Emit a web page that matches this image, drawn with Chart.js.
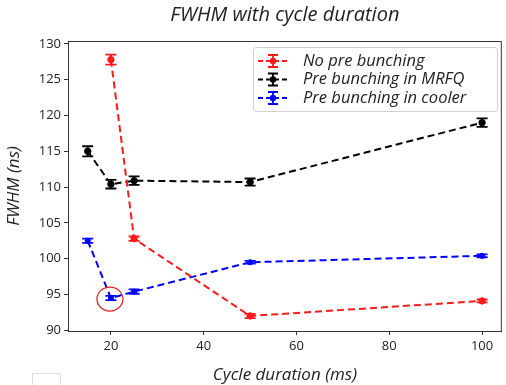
<!DOCTYPE html>
<html><head><meta charset="utf-8">
<script src="https://cdn.jsdelivr.net/npm/chart.js@4/dist/chart.umd.min.js"></script>
<style>html,body{margin:0;padding:0;background:#fff}#wrap{position:relative;width:506px;height:385px}
#box{position:absolute;left:32px;top:373px;width:29px;height:14px;border:1px solid #ddd;border-bottom:none;box-sizing:border-box}</style>
</head><body><div id="wrap"><canvas id="c" width="506" height="385"></canvas><div id="box"></div></div>
<script>
const seriesLabels = ["No pre bunching", "Pre bunching in MRFQ", "Pre bunching in cooler"];
const redX = [20, 25, 50, 100];
const redY = [127.8, 102.8, 92.0, 94.1];
const redErr = [0.7, 0.3, 0.3, 0.2];
const blackX = [15, 20, 25, 50, 100];
const blackY = [115.0, 110.4, 110.9, 110.7, 119.0];
const blackErr = [0.7, 0.6, 0.6, 0.5, 0.6];
const blueX = [15, 20, 25, 50, 100];
const blueY = [102.5, 94.5, 95.4, 99.5, 100.4];
const blueErr = [0.3, 0.3, 0.3, 0.2, 0.2];
const xTicks = [20, 40, 60, 80, 100];
const yTicks = [90, 95, 100, 105, 110, 115, 120, 125, 130];
const highlight = {x: 20, y: 94.5};

const FONT = "'Open Sans', sans-serif";
const colors = ['#ff1a1a', '#000000', '#0000ff'];
const radii = [3.2, 3.2, 2.6];
const toPts = (xs, ys) => xs.map((x, i) => ({x: x, y: ys[i]}));
const errs = [redErr, blackErr, blueErr];

function ds(i, xs, ys) {
  return {label: seriesLabels[i], data: toPts(xs, ys), borderColor: colors[i], backgroundColor: colors[i],
    borderWidth: 2, borderDash: [7, 4], pointRadius: radii[i], pointHoverRadius: radii[i], pointBorderWidth: 1,
    showLine: true, fill: false, tension: 0};
}

const decor = {
  id: 'decor',
  afterDatasetsDraw(chart) {
    const ctx = chart.ctx, xs = chart.scales.x, ys = chart.scales.y, a = chart.chartArea;
    ctx.save();
    chart.data.datasets.forEach((d, di) => {
      ctx.strokeStyle = colors[di]; ctx.lineWidth = 1.8; ctx.setLineDash([]);
      d.data.forEach((p, i) => {
        const px = xs.getPixelForValue(p.x);
        const y1 = ys.getPixelForValue(p.y - errs[di][i]);
        const y2 = ys.getPixelForValue(p.y + errs[di][i]);
        ctx.beginPath();
        ctx.moveTo(px, y1); ctx.lineTo(px, y2);
        ctx.moveTo(px - 5.5, y1); ctx.lineTo(px + 5.5, y1);
        ctx.moveTo(px - 5.5, y2); ctx.lineTo(px + 5.5, y2);
        ctx.stroke();
      });
    });
    // highlight circle
    const hx = xs.getPixelForValue(highlight.x), hy = ys.getPixelForValue(highlight.y);
    ctx.strokeStyle = '#e02020'; ctx.lineWidth = 1.2;
    ctx.beginPath(); ctx.ellipse(hx - 1, hy + 1, 13, 12, 0, 0, Math.PI * 2); ctx.stroke();
    // frame
    ctx.strokeStyle = '#333'; ctx.lineWidth = 1;
    ctx.strokeRect(a.left + 0.5, a.top + 0.5, a.right - a.left - 1, a.bottom - a.top);
    // legend
    const lx = 253, ly = 47, lw = 244, lh = 64;
    ctx.fillStyle = 'rgba(255,255,255,0.85)'; ctx.strokeStyle = '#d0d0d0'; ctx.lineWidth = 1;
    ctx.beginPath(); ctx.roundRect(lx + 0.5, ly + 0.5, lw, lh, 3); ctx.fill(); ctx.stroke();
    seriesLabels.forEach((t, i) => {
      const y = 61 + i * 18.5;
      ctx.strokeStyle = colors[i]; ctx.fillStyle = colors[i];
      ctx.lineWidth = 2; ctx.setLineDash([5, 3]);
      ctx.beginPath(); ctx.moveTo(258, y); ctx.lineTo(288, y); ctx.stroke();
      ctx.setLineDash([]); ctx.lineWidth = 1.8;
      ctx.beginPath(); ctx.moveTo(273, y - 6); ctx.lineTo(273, y + 6);
      ctx.moveTo(268, y - 6); ctx.lineTo(278, y - 6); ctx.moveTo(268, y + 6); ctx.lineTo(278, y + 6); ctx.stroke();
      ctx.beginPath(); ctx.arc(273, y, 3.2, 0, Math.PI * 2); ctx.fill();
      ctx.fillStyle = '#222'; ctx.font = 'italic 16.5px ' + FONT; ctx.textBaseline = 'middle'; ctx.textAlign = 'left';
      ctx.fillText(t, 303, y);
    });
    ctx.restore();
  }
};

new Chart(document.getElementById('c'), {
  type: 'scatter',
  data: {datasets: [ds(0, redX, redY), ds(1, blackX, blackY), ds(2, blueX, blueY)]},
  plugins: [decor],
  options: {
    responsive: false, animation: false, events: [],
    layout: {padding: {top: 0, left: 0, right: 3, bottom: 0}},
    plugins: {
      legend: {display: false}, tooltip: {enabled: false},
      title: {display: true, fullSize: false, text: 'FWHM with cycle duration', color: '#222',
        font: {family: FONT, size: 20, style: 'italic', weight: 'normal'}, padding: {top: 3, bottom: 14}}
    },
    scales: {
      x: {type: 'linear', min: 10.75, max: 104.25,
        afterBuildTicks: s => { s.ticks = xTicks.map(v => ({value: v})); },
        afterFit: s => { s.height = 54; },
        grid: {display: true, drawOnChartArea: false, drawTicks: true, tickLength: 4, color: '#333'},
        border: {display: true, color: '#333'},
        ticks: {color: '#222', padding: 3, font: {family: FONT, size: 13}},
        title: {display: true, text: 'Cycle duration (ms)', color: '#222', padding: {top: 0, bottom: 0},
          font: {family: FONT, size: 17, style: 'italic'}}
      },
      y: {type: 'linear', min: 89.9, max: 130.4,
        afterBuildTicks: s => { s.ticks = yTicks.map(v => ({value: v})); },
        afterFit: s => { s.width = 68; },
        grid: {display: true, drawOnChartArea: false, drawTicks: true, tickLength: 4, color: '#333'},
        border: {display: true, color: '#333'},
        ticks: {color: '#222', padding: 3, font: {family: FONT, size: 13}},
        title: {display: true, text: 'FWHM (ns)', color: '#222', padding: {top: 4, bottom: 0},
          font: {family: FONT, size: 17, style: 'italic'}}
      }
    }
  }
});
</script></body></html>
